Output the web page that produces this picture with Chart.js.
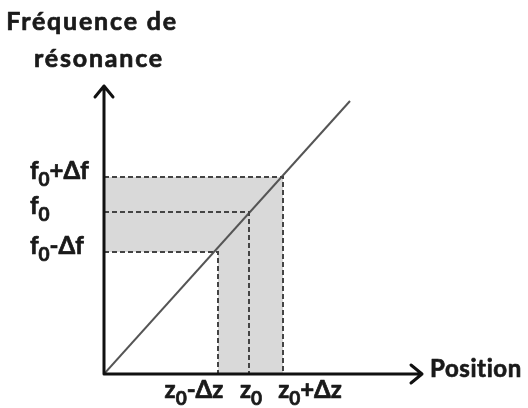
<!DOCTYPE html>
<html>
<head>
<meta charset="utf-8">
<script src="https://cdn.jsdelivr.net/npm/chart.js@4.4.1/dist/chart.umd.min.js"></script>
<style>
  html, body { margin: 0; padding: 0; background: #fff; }
  #wrap { width: 528px; height: 408px; }
</style>
</head>
<body>
<div id="wrap"><canvas id="chart" width="528" height="408"></canvas></div>
<script>
// values (arbitrary units, origin at the axes corner)
const positions = [114, 145, 179];      // z0-Δz, z0, z0+Δz
const frequencies = [122, 162, 197];    // f0-Δf, f0, f0+Δf
const lineStart = [0, 0];
const lineEnd = [246, 273];
const xLabels = [["z", "0", "-Δz"], ["z", "0", ""], ["z", "0", "+Δz"]];
const yLabels = [["f", "0", "-Δf"], ["f", "0", ""], ["f", "0", "+Δf"]];
const xMax = 319;
const yMax = 289;

const grey = "#d9d9d9";
const dashColor = "#444";
const font = "Lato, 'Open Sans', sans-serif";

// bold text with a thin outline so it looks as heavy as the original
const heavyText = (ctx, str, x, y) => {
    ctx.fillText(str, x, y);
    ctx.strokeText(str, x, y);
};

const drawSub = (ctx, parts, x, y, align, size) => {
    const big = "bold " + size + "px " + font;
    const small = "bold " + Math.round(size * 0.8) + "px " + font;
    ctx.font = big;
    const w1 = ctx.measureText(parts[0]).width;
    const w3 = ctx.measureText(parts[2]).width;
    ctx.font = small;
    const w2 = ctx.measureText(parts[1]).width;
    const total = w1 + w2 + w3;
    let sx = x;
    if (align === "center") sx = x - total / 2;
    if (align === "right") sx = x - total;
    ctx.textAlign = "left";
    ctx.textBaseline = "alphabetic";
    ctx.font = big;
    heavyText(ctx, parts[0], sx, y);
    ctx.font = small;
    heavyText(ctx, parts[1], sx + w1, y + size * 0.3);
    ctx.font = big;
    heavyText(ctx, parts[2], sx + w1 + w2, y);
};

const axesPlugin = {
    id: "axesPlugin",
    afterDatasetsDraw(chart) {
        const ctx = chart.ctx;
        const xs = chart.scales.x;
        const ys = chart.scales.y;
        const x0 = xs.getPixelForValue(0);
        const y0 = ys.getPixelForValue(0);
        const xEnd = xs.getPixelForValue(xMax);
        const yTop = ys.getPixelForValue(yMax);
        ctx.save();
        ctx.strokeStyle = "#111";
        ctx.lineWidth = 3;
        ctx.lineCap = "round";
        ctx.lineJoin = "round";
        ctx.beginPath();
        ctx.moveTo(x0, y0);
        ctx.lineTo(x0, yTop + 1);
        ctx.moveTo(x0, y0);
        ctx.lineTo(xEnd - 1, y0);
        // arrow heads
        ctx.moveTo(x0 - 9, yTop + 12);
        ctx.lineTo(x0, yTop + 1);
        ctx.lineTo(x0 + 9, yTop + 12);
        ctx.moveTo(xEnd - 12, y0 - 9);
        ctx.lineTo(xEnd - 1, y0);
        ctx.lineTo(xEnd - 12, y0 + 9);
        ctx.stroke();

        ctx.fillStyle = "#1a1a1a";
        ctx.strokeStyle = "#1a1a1a";
        ctx.lineWidth = 0.7;
        // tick labels
        const xOffsets = [-24, 2, 27];
        positions.forEach((v, i) => {
            drawSub(ctx, xLabels[i], xs.getPixelForValue(v) + xOffsets[i], y0 + 24, "center", 24);
        });
        frequencies.forEach((v, i) => {
            drawSub(ctx, yLabels[i], 30, ys.getPixelForValue(v) + 2, "left", 24);
        });

        // axis titles
        ctx.font = "bold 25px " + font;
        ctx.letterSpacing = "1.8px";
        ctx.textAlign = "center";
        ctx.textBaseline = "middle";
        heavyText(ctx, "Fréquence de", 92, 22);
        heavyText(ctx, "résonance", 99, 59);
        ctx.letterSpacing = "0.6px";
        ctx.font = "bold 24px " + font;
        ctx.textAlign = "left";
        heavyText(ctx, "Position", xEnd + 7, y0 - 5);
        ctx.restore();
    }
};

const dashed = (z, f) => ({
    data: [{ x: 0, y: f }, { x: z, y: f }, { x: z, y: 0 }],
    showLine: true,
    borderColor: dashColor,
    borderWidth: 2,
    borderDash: [5, 3],
    pointRadius: 0,
    fill: false,
    tension: 0,
});

const zm = positions[0], zp = positions[2];
const fm = frequencies[0], fp = frequencies[2];

new Chart(document.getElementById("chart"), {
    type: "scatter",
    data: {
        datasets: [
            {
                // horizontal band
                data: [{ x: 0, y: fp }, { x: zp, y: fp }],
                showLine: true,
                borderWidth: 0,
                pointRadius: 0,
                backgroundColor: grey,
                fill: { value: fm },
            },
            {
                // vertical band
                data: [{ x: zm, y: fp }, { x: zp, y: fp }],
                showLine: true,
                borderWidth: 0,
                pointRadius: 0,
                backgroundColor: grey,
                fill: "origin",
            },
            ...positions.map((z, i) => dashed(z, frequencies[i])),
            {
                data: [{ x: lineStart[0], y: lineStart[1] }, { x: lineEnd[0], y: lineEnd[1] }],
                showLine: true,
                borderColor: "#555",
                borderWidth: 2,
                pointRadius: 0,
                fill: false,
            },
        ],
    },
    options: {
        responsive: false,
        animation: false,
        layout: { padding: { left: 104, right: 105, top: 85, bottom: 34 } },
        plugins: {
            legend: { display: false },
            tooltip: { enabled: false },
            filler: { drawTime: "beforeDatasetsDraw" },
        },
        scales: {
            x: { type: "linear", display: false, min: 0, max: xMax },
            y: { type: "linear", display: false, min: 0, max: yMax },
        },
    },
    plugins: [axesPlugin],
});
</script>
</body>
</html>
